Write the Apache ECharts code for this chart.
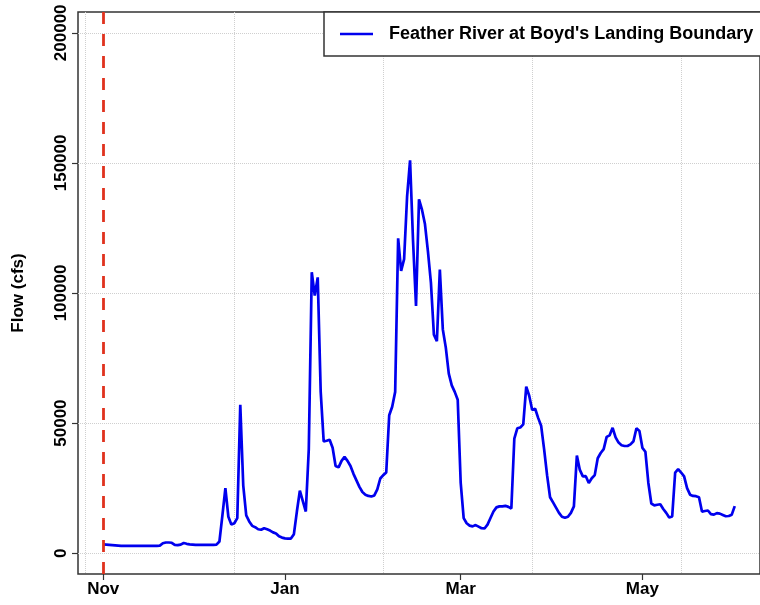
<!DOCTYPE html>
<html>
<head>
<meta charset="utf-8">
<script src="https://cdn.jsdelivr.net/npm/echarts@6/dist/echarts.min.js"></script>
<style>html,body{margin:0;padding:0;background:#fff}#c{width:760px;height:605px}</style>
</head>
<body>
<div id="c"></div>
<script>
// ---- data ----
const startDate = '2016-11-01';
const seriesName = "Feather River at Boyd's Landing Boundary";
const flow = [
  3400,3300,3200,3100,3000,2900,2800,2800,2800,2800,
  2800,2800,2800,2800,2800,2800,2800,2800,2800,2900,
  3800,4100,4100,4000,3200,3100,3300,3900,3600,3400,
  3300,3200,3200,3200,3200,3200,3200,3200,3300,4500,
  14500,25000,14000,11000,11500,13500,57000,26000,14500,12200,
  10500,10000,9200,9000,9600,9200,8700,8000,7600,6500,
  6000,5700,5600,5600,7300,16000,24000,20000,16000,40000,
  108000,99000,106000,62000,43000,43200,43600,40500,33500,33000,
  35500,37000,35500,33500,30500,28000,25500,23500,22500,22000,
  21800,22200,24500,28700,30000,31000,53000,56300,62000,121000,
  108500,113000,137000,151000,120000,95000,136000,132000,126500,116000,
  104000,84000,81500,109000,86000,79000,69000,64500,62000,59000,
  27000,13500,11500,10600,10300,10800,10200,9600,9500,11000,
  13500,16000,17600,18000,18000,18200,17800,17200,44000,48000,
  48300,49500,64000,60500,55000,55500,52000,49000,40000,30000,
  21500,19500,17500,15500,14000,13600,14000,15500,18000,37500,
  32000,29500,29600,27000,28800,30000,36500,38500,40000,44700,
  45300,48200,44500,42500,41500,41200,41200,41800,43000,48000,
  47000,40500,39000,27000,19100,18400,18600,18800,17000,15500,
  13700,14100,31000,32300,31000,29500,25000,22500,22000,21900,
  21500,16000,16200,16400,15000,14800,15400,15200,14700,14200,
  14300,14800,18100
];
const monthLabels = ['Nov', 'Jan', 'Mar', 'May'];
const monthDates = ['2016-11-01', '2017-01-01', '2017-03-01', '2017-05-01'];
const yTicks = [0, 50000, 100000, 150000, 200000];
const markerDate = '2016-11-01';

// ---- build ----
const DAY = 86400000;
const t0 = Date.parse(startDate + 'T00:00:00Z');
const dayOf = s => Math.round((Date.parse(s + 'T00:00:00Z') - t0) / DAY);
const data = flow.map((v, i) => [i, v]);
const n = flow.length - 1;
const xMin = -0.04 * n, xMax = n * 1.04;
const yTop = yTicks[yTicks.length - 1];
const yMin = -0.04 * yTop, yMax = yTop * 1.04;
const monthDays = monthDates.map(dayOf);
const epoch0 = t0 / DAY;
const gridDays = [];
for (let e = Math.ceil((epoch0 + xMin) / 50) * 50; e <= epoch0 + xMax; e += 50) gridDays.push(e - epoch0);

const FONT = '"Liberation Sans", Arial, Helvetica, sans-serif';
const chart = echarts.init(document.getElementById('c'), null, {renderer: 'canvas'});
const gridLine = {show: true, lineStyle: {color: '#cfcfcf', type: 'dotted', width: 1}};

chart.setOption({
  animation: false,
  backgroundColor: '#ffffff',
  textStyle: {fontFamily: FONT},
  grid: {left: 78, top: 12, width: 683, height: 562, show: true, borderColor: '#333', borderWidth: 1.5, backgroundColor: 'transparent'},
  legend: {
    show: true, left: 324, top: 12, padding: [13, 20, 13, 16],
    borderColor: '#333', borderWidth: 1.5, backgroundColor: '#fff',
    icon: 'rect', itemWidth: 33, itemHeight: 2.7,
    textStyle: {fontFamily: FONT, fontSize: 18, fontWeight: 'bold', color: '#000', padding: [0, 0, 0, 11]},
    data: [seriesName]
  },
  xAxis: [
    {
      type: 'value', min: xMin, max: xMax, position: 'bottom',
      axisLine: {show: false, onZero: false},
      splitLine: {show: false},
      axisTick: {show: true, customValues: monthDays, length: 6, lineStyle: {color: '#333', width: 1.2}},
      axisLabel: {
        customValues: monthDays, margin: 7, fontFamily: FONT, fontSize: 17, fontWeight: 'bold', color: '#000',
        formatter: v => monthLabels[monthDays.indexOf(Math.round(v))] || ''
      }
    },
    {
      type: 'value', min: xMin, max: xMax,
      axisLine: {show: false, onZero: false},
      axisTick: {show: false, customValues: gridDays},
      axisLabel: {show: false},
      splitLine: gridLine
    }
  ],
  yAxis: {
    type: 'value', min: yMin, max: yMax, position: 'left',
    axisLine: {show: false, onZero: false},
    axisTick: {show: true, customValues: yTicks, length: 6, lineStyle: {color: '#333', width: 1.2}},
    axisLabel: {customValues: yTicks, rotate: 90, margin: 8, fontFamily: FONT, fontSize: 17, fontWeight: 'bold', color: '#000', formatter: v => String(v)},
    splitLine: gridLine,
    name: 'Flow (cfs)', nameLocation: 'middle', nameRotate: 90, nameGap: 51,
    nameTextStyle: {fontFamily: FONT, fontSize: 17, fontWeight: 'bold', color: '#000'}
  },
  series: [{
    type: 'line', name: seriesName, data: data, xAxisIndex: 0,
    symbol: 'none', showSymbol: false,
    lineStyle: {color: '#0000ee', width: 2.7},
    itemStyle: {color: '#0000ee'},
    z: 3,
    markLine: {
      silent: true, symbol: 'none', label: {show: false}, animation: false,
      lineStyle: {color: '#e0321e', type: [12, 10], width: 2.8},
      data: [{xAxis: dayOf(markerDate)}]
    }
  }]
});
</script>
</body>
</html>
